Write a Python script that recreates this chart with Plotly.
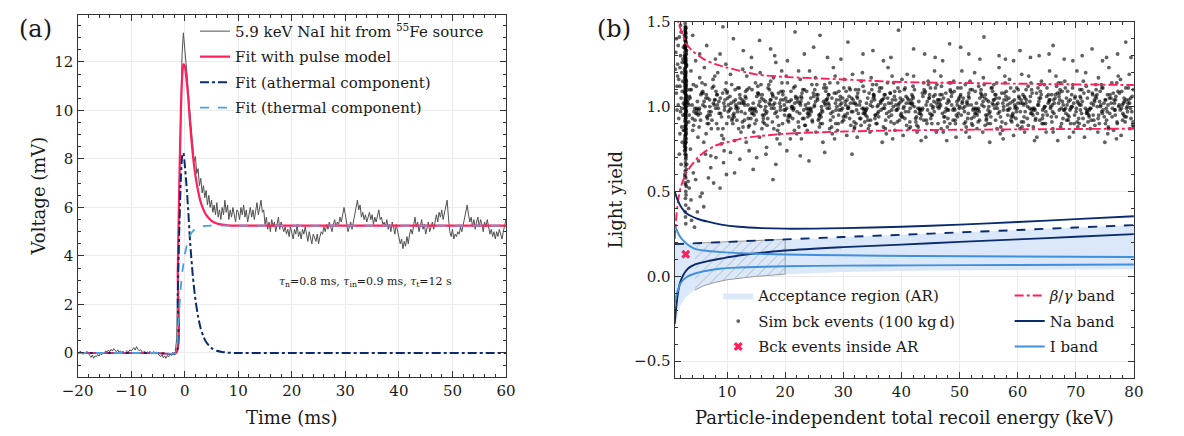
import plotly.graph_objects as go

# ---------------- panel (a) data ----------------
trace_t0 = -20.0
trace_dt = 0.25
trace_mv = [
    0.05, -0.04, 0.08, 0.02, -0.06, 0.04, -0.02, 0.07, -0.05,
    -0.10, -0.18, -0.08, -0.22, -0.12, -0.15, -0.06, -0.13, -0.02, -0.08,
    0.04, -0.03, 0.09, 0.02, 0.12, 0.05, 0.15, 0.08, 0.18, 0.10, 0.06, 0.13, 0.03, 0.09,
    0.02, 0.07, -0.03, 0.05, 0.10, 0.04, 0.13, 0.08, 0.16, 0.22, 0.12, 0.26, 0.15, 0.09, 0.14, 0.05,
    0.02, 0.08, -0.02, 0.05, 0.00, 0.07, -0.04, 0.03, 0.06, -0.01, 0.04, -0.03,
    -0.08, -0.15, -0.06, -0.20, -0.12, -0.22, -0.10, -0.16, -0.05, -0.11,
    0.02, -0.04, 0.05,
    0.6, 4.0, 7.2, 10.0, 12.3, 13.2,
    12.6, 12.1, 11.3, 10.5, 9.9, 9.0, 8.6, 7.9, 8.1, 7.4,
    7.6, 6.9, 7.2, 6.6, 6.9, 6.4, 6.7, 6.1, 6.5, 6.0,
    6.3, 5.8, 6.1, 5.7, 6.2, 5.6, 5.9, 5.5, 6.0, 5.7,
    6.3, 5.8, 6.1, 5.5, 5.9, 5.6, 6.0, 5.7, 5.4, 5.9,
    5.8, 5.5, 6.0, 5.7, 6.1, 5.6, 5.9, 5.4, 5.8, 6.0, 5.6, 5.9, 5.5, 5.8, 6.2, 5.7, 6.0, 6.3, 5.8, 5.9,
    5.3, 5.6, 5.1, 5.4, 5.0, 5.5, 5.2, 5.4, 5.0, 5.3, 5.6, 5.1, 5.4, 5.2, 5.0,
    5.2, 4.9, 5.1, 4.8, 5.2, 5.0, 4.7, 5.1, 4.9, 5.3, 4.8, 5.0, 4.7, 5.1, 4.9, 5.2, 4.8, 4.6, 5.0, 4.8,
    4.5, 4.9, 4.7, 4.6, 4.9, 4.5,
    4.8, 5.0, 4.9, 5.2, 5.0, 5.3, 5.1, 5.4, 5.2, 5.0, 5.3, 5.5, 5.2, 5.4, 5.3, 5.6, 5.4,
    5.8, 6.0, 5.7, 5.3, 5.0, 5.2, 5.4, 5.1, 5.5, 5.7,
    6.0, 6.3, 5.9, 6.1, 5.6, 5.8, 5.5,
    5.7, 5.4, 5.6, 5.8, 5.5, 5.7, 5.3, 5.6, 5.4, 5.7, 5.9, 5.5, 5.6, 5.3,
    5.4, 5.2, 5.5, 5.1, 5.3, 5.0, 5.4, 5.2, 4.9, 5.3, 5.0,
    4.8, 4.5, 4.7, 4.3, 4.6, 4.4, 4.8, 4.5, 4.9,
    5.1, 4.9, 5.3, 5.6, 5.2, 5.4, 5.0, 5.3, 5.5, 5.1, 5.3, 4.9, 5.2, 5.4, 5.0, 5.2, 5.4, 5.1,
    5.5, 5.7, 5.4, 5.8, 5.6, 5.9, 5.5, 5.8, 6.0, 6.3,
    5.6, 5.0, 4.8, 5.1, 4.7, 4.9, 4.8, 5.0, 4.9, 5.2, 5.0, 5.3,
    5.5, 5.8, 6.1, 5.7, 5.4, 5.6,
    5.2, 5.5, 5.1, 5.4, 5.6, 5.2, 5.5, 5.3, 5.0, 5.4, 5.2, 5.5, 5.1,
    4.9, 5.1, 4.8, 5.0, 4.7, 5.0, 4.8, 5.1, 4.9, 4.7, 5.0, 5.2,
    5.5,
]
fit_t = [-20, -5, -1.6, -1.3, -1.0, -0.7, -0.45, -0.25, 0.0, 0.3, 0.65, 1.0, 1.5, 2.0,
         2.5, 3.0, 3.5, 4.0, 5.0, 6.0, 7.0, 8.0, 10.0, 20.0, 60.0]
fit_pulse = [0, 0, 0, 3.3, 7.1, 10.1, 11.5, 11.9, 11.85, 11.35, 10.55, 9.45, 8.22, 7.32,
             6.68, 6.21, 5.91, 5.69, 5.45, 5.34, 5.29, 5.265, 5.25, 5.25, 5.25]
fit_athermal = [0, 0, 0, 2.4, 5.2, 7.3, 8.15, 8.25, 7.8, 7.0, 5.9, 4.6, 3.2, 2.2,
                1.5, 1.0, 0.68, 0.45, 0.2, 0.09, 0.04, 0.015, 0.0, 0.0, 0.0]
fit_thermal = [0, 0, 0, 0.9, 1.9, 2.8, 3.35, 3.65, 4.05, 4.35, 4.65, 4.85, 5.02, 5.12,
               5.18, 5.21, 5.23, 5.24, 5.25, 5.25, 5.25, 5.25, 5.25, 5.25, 5.25]

# ---------------- panel (b) data ----------------
bg_up_e = [1.3, 1.6, 2.2, 3, 4, 6, 8, 10, 15, 20, 30, 40, 60, 80]
bg_up_ly = [1.58, 1.5, 1.44, 1.37, 1.33, 1.28, 1.25, 1.23, 1.19, 1.175, 1.16, 1.145, 1.135, 1.127]
bg_lo_e = [1.0, 1.3, 1.6, 2.0, 2.5, 3.0, 4, 5, 6, 8, 10, 13, 20, 30, 40, 60, 80]
bg_lo_ly = [0.22, 0.36, 0.45, 0.52, 0.57, 0.61, 0.66, 0.70, 0.73, 0.77, 0.79, 0.815, 0.84,
            0.853, 0.86, 0.866, 0.87]
na_up_e = [1, 1.5, 2, 2.5, 3, 3.9, 5, 6.7, 9, 12, 16, 20, 30, 40, 50, 60, 70, 80]
na_up_ly = [0.5, 0.45, 0.415, 0.39, 0.372, 0.354, 0.338, 0.322, 0.305, 0.292, 0.284, 0.281,
            0.284, 0.292, 0.305, 0.32, 0.337, 0.354]
na_mid_e = [1, 10, 20, 30, 40, 50, 60, 70, 80]
na_mid_ly = [0.19, 0.203, 0.218, 0.232, 0.245, 0.259, 0.273, 0.288, 0.302]
na_lo_e = [1, 1.3, 1.6, 1.9, 2.5, 3.3, 4.5, 6.7, 9, 12, 20, 30, 40, 50, 60, 70, 80]
na_lo_ly = [-0.28, -0.17, -0.09, -0.04, 0.01, 0.046, 0.07, 0.09, 0.105, 0.123, 0.152, 0.172,
            0.187, 0.203, 0.218, 0.233, 0.249]
i_up_e = [1, 1.5, 2, 2.8, 3.5, 4.5, 6, 9, 12, 20, 30, 42, 60, 80]
i_up_ly = [0.306, 0.26, 0.23, 0.2, 0.18, 0.162, 0.152, 0.143, 0.137, 0.129, 0.124, 0.12, 0.117, 0.114]
i_lo_e = [1, 1.3, 1.6, 2, 3, 4.5, 6, 9, 12, 20, 30, 42, 60, 80]
i_lo_ly = [-0.16, -0.11, -0.075, -0.04, -0.005, 0.017, 0.03, 0.046, 0.052, 0.06, 0.063, 0.065, 0.067, 0.07]
ar_lo_e = [1, 1.5, 2, 3, 4, 5, 6, 8, 10, 15, 20, 30, 40, 60, 80]
ar_lo_ly = [-0.33, -0.23, -0.17, -0.12, -0.09, -0.07, -0.055, -0.035, -0.02, 0.0, 0.013, 0.025,
            0.032, 0.038, 0.042]
hatch_lo_e = [4.5, 5, 6, 8, 10, 15, 20]
hatch_lo_ly = [-0.08, -0.07, -0.055, -0.035, -0.02, 0.0, 0.013]
hatch_hi_e = [20, 10, 4.5]
hatch_hi_ly = [0.218, 0.203, 0.196]
inside_e = [2.9]
inside_ly = [0.13]

# simulated background events
column_e = [2.8, 2.9, 2.7, 3.0, 2.8, 2.9, 2.75, 3.05, 2.85, 2.95, 2.7, 2.9, 2.8, 3.0, 2.85, 2.75, 2.95, 2.8, 2.9, 3.1,
            2.8, 2.7, 2.9, 2.85, 3.0, 2.75, 2.9, 2.8, 2.95, 2.85, 2.9, 2.7, 2.8, 3.0, 2.85, 2.9, 2.75, 2.95, 2.8, 2.9,
            2.85, 3.0, 2.8, 2.9, 2.7, 2.85, 2.95, 2.8, 2.9, 3.05, 2.8, 2.9, 2.75, 2.85, 3.0, 2.9, 2.8, 2.95, 2.85, 2.9,
            2.8, 2.9, 2.85, 2.95, 2.75, 2.8, 2.9, 3.0, 2.85, 2.7, 2.9, 2.8, 2.95, 2.85, 2.75, 3.0, 2.8, 2.9, 2.85, 2.95,
            2.7, 2.8, 2.9, 3.05, 2.85, 2.75, 2.9, 2.8, 2.95, 2.85, 2.9, 2.8, 2.7, 2.9, 2.85, 3.0, 2.8, 2.9, 2.85, 2.9,
            2.8, 2.9, 2.85, 2.75, 2.95, 2.8, 3.0, 2.85, 2.9, 2.8, 2.9, 2.85, 2.75, 2.95, 2.8, 2.9, 3.0, 2.85, 2.8, 2.9,
            2.85, 2.75, 2.9, 2.8, 2.95, 2.85, 2.9, 3.0, 2.8, 2.85, 2.9, 2.8, 2.75, 2.95, 2.85, 2.9, 2.8, 3.0, 2.85, 2.9,
            2.8, 2.9, 2.85, 2.95, 2.75, 2.8, 2.9, 2.85, 3.0, 2.8, 2.9, 2.85, 2.75, 2.9, 2.8, 2.95, 2.85, 2.9, 2.8, 3.0]
column_ly = [1.45, 1.38, 1.42, 1.33, 1.29, 1.47, 1.36, 1.24, 1.40, 1.31, 1.22, 1.18, 1.27, 1.15, 1.35, 1.12, 1.20, 1.08, 1.25, 1.10,
             1.05, 1.14, 1.02, 0.98, 1.06, 0.95, 1.11, 0.92, 1.00, 0.88, 0.94, 0.86, 1.03, 0.90, 0.83, 0.97, 0.80, 0.87, 0.78, 0.84,
             0.75, 0.81, 0.72, 0.69, 0.77, 0.65, 0.71, 0.62, 0.58, 0.66, 0.55, 0.50, 0.60, 0.46, 0.53, 0.42, 0.38, 0.48, 0.35, 0.31,
             1.49, 1.43, 1.39, 1.41, 1.32, 1.34, 1.28, 1.37, 1.26, 1.30, 1.21, 1.19, 1.16, 1.23, 1.17, 1.13, 1.09, 1.07, 1.04, 1.12,
             1.01, 0.99, 0.96, 1.03, 0.93, 1.08, 0.89, 0.91, 0.85, 0.82, 0.79, 0.76, 0.74, 0.70, 0.67, 0.63, 0.59, 0.54, 1.44, 1.46,
             1.41, 0.87, 1.13, 0.99, 1.27, 0.78, 1.06, 1.35, 0.93, 1.19, 1.02, 1.44, 0.81, 1.24, 0.96, 1.09, 1.31, 0.74, 1.16, 1.38,
             0.89, 1.21, 1.05, 1.47, 0.84, 1.11, 1.29, 0.97, 1.36, 0.76, 1.14, 1.01, 1.26, 0.91, 1.43, 1.07, 0.83, 1.33, 1.18, 0.95,
             1.39, 0.72, 1.23, 1.04, 1.30, 0.88, 1.15, 1.46, 0.98, 1.20, 0.79, 1.34, 1.10, 0.94, 1.28, 1.00, 1.40, 0.86, 1.17, 1.25]
lowe_e = [1.2, 1.5, 1.8, 2.1, 2.3, 1.4, 1.9, 2.2, 1.6, 2.4, 1.1, 1.7, 2.0, 2.3, 1.3, 2.5, 1.9, 2.1, 1.6, 2.4,
          1.5, 2.2, 1.8, 2.0, 2.5, 1.3, 2.3, 1.7, 2.1, 2.4, 1.4, 2.0, 2.2, 1.9, 2.5]
lowe_ly = [1.32, 1.18, 1.41, 1.05, 1.26, 0.98, 1.12, 0.88, 1.36, 1.15, 1.22, 0.93, 1.30, 0.79, 1.08, 1.02, 0.84, 1.44, 1.01, 0.95,
           1.25, 1.20, 0.72, 0.97, 1.35, 1.40, 1.09, 1.16, 0.66, 1.28, 1.12, 1.48, 0.99, 1.23, 0.86]
below_e = [3.5, 4.2, 3.8, 5.1, 4.6, 6.3, 5.7, 7.2, 3.4, 8.1, 6.8, 9.4, 4.9, 10.6, 7.7, 12.2, 3.9, 11.3, 13.8, 5.4,
           15.1, 8.8, 16.7, 18.4, 6.0, 20.3, 9.9, 22.6, 14.5, 4.4, 26.8, 17.9, 31.5, 3.3, 24.1]
below_ly = [0.52, 0.61, 0.45, 0.68, 0.57, 0.72, 0.49, 0.64, 0.40, 0.70, 0.58, 0.67, 0.38, 0.73, 0.55, 0.69, 0.33, 0.61, 0.74, 0.47,
            0.70, 0.52, 0.72, 0.66, 0.41, 0.74, 0.60, 0.71, 0.63, 0.29, 0.73, 0.57, 0.72, 0.56, 0.68]
above_e = [4.1, 6.5, 9.3, 12.8, 15.6, 18.2, 21.7, 24.9, 27.3, 30.8, 33.4, 36.9, 39.5, 42.1, 45.8, 48.3, 51.6, 54.2, 57.9, 60.4,
           63.7, 66.1, 69.5, 72.8, 75.3, 78.6, 5.3, 8.0, 11.1, 14.2, 17.5, 20.4, 23.3, 26.0, 29.6, 35.1, 38.2, 44.0, 47.1, 50.2,
           53.5, 56.8, 59.3, 62.2, 65.4, 68.0, 71.1, 74.6, 77.2, 79.5]
above_ly = [1.42, 1.36, 1.47, 1.33, 1.39, 1.30, 1.44, 1.35, 1.29, 1.38, 1.31, 1.27, 1.45, 1.34, 1.29, 1.37, 1.31, 1.41, 1.28, 1.33,
            1.30, 1.36, 1.27, 1.34, 1.29, 1.38, 1.31, 1.28, 1.40, 1.29, 1.34, 1.27, 1.31, 1.42, 1.28, 1.33, 1.29, 1.31, 1.27, 1.35,
            1.28, 1.30, 1.27, 1.29, 1.31, 1.28, 1.30, 1.27, 1.31, 1.29]
cloud_e = [
    3.3, 4.1, 3.6, 4.3, 3.8, 3.4, 4.0, 3.7, 4.2, 3.5,
    4.5, 5.3, 4.8, 5.5, 5.0, 4.6, 5.2, 4.9, 5.4, 4.7,
    5.7, 6.5, 6.0, 6.7, 6.2, 5.8, 6.4, 6.1, 6.6, 5.9,
    6.9, 7.7, 7.2, 7.9, 7.4, 7.0, 7.6, 7.3, 7.8, 7.1,
    8.1, 8.9, 8.4, 9.1, 8.6, 8.2, 8.8, 8.5, 9.0, 8.3,
    9.3, 10.1, 9.6, 10.3, 9.8, 9.4, 10.0, 9.7, 10.2, 9.5,
    10.5, 11.3, 10.8, 11.5, 11.0, 10.6, 11.2, 10.9, 11.4, 10.7,
    11.7, 12.5, 12.0, 12.7, 12.2, 11.8, 12.4, 12.1, 12.6, 11.9,
    12.9, 13.7, 13.2, 13.9, 13.4, 13.0, 13.6, 13.3, 13.8, 13.1,
    14.1, 14.9, 14.4, 15.1, 14.6, 14.2, 14.8, 14.5, 15.0, 14.3,
    15.3, 16.1, 15.6, 16.3, 15.8, 15.4, 16.0, 15.7, 16.2, 15.5,
    16.5, 17.3, 16.8, 17.5, 17.0, 16.6, 17.2, 16.9, 17.4, 16.7,
    17.7, 18.5, 18.0, 18.7, 18.2, 17.8, 18.4, 18.1, 18.6, 17.9,
    18.9, 19.7, 19.2, 19.9, 19.4, 19.0, 19.6, 19.3, 19.8, 19.1,
    20.1, 20.9, 20.4, 21.1, 20.6, 20.2, 20.8, 20.5, 21.0, 20.3,
    21.3, 22.1, 21.6, 22.3, 21.8, 21.4, 22.0, 21.7, 22.2, 21.5,
    22.5, 23.3, 22.8, 23.5, 23.0, 22.6, 23.2, 22.9, 23.4, 22.7,
    23.7, 24.5, 24.0, 24.7, 24.2, 23.8, 24.4, 24.1, 24.6, 23.9,
    24.9, 25.7, 25.2, 25.9, 25.4, 25.0, 25.6, 25.3, 25.8, 25.1,
    26.1, 26.9, 26.4, 27.1, 26.6, 26.2, 26.8, 26.5, 27.0, 26.3,
    27.3, 28.1, 27.6, 28.3, 27.8, 27.4, 28.0, 27.7, 28.2, 27.5,
    28.5, 29.3, 28.8, 29.5, 29.0, 28.6, 29.2, 28.9, 29.4, 28.7,
    29.7, 30.5, 30.0, 30.7, 30.2, 29.8, 30.4, 30.1, 30.6, 29.9,
    30.9, 31.7, 31.2, 31.9, 31.4, 31.0, 31.6, 31.3, 31.8, 31.1,
    32.1, 32.9, 32.4, 33.1, 32.6, 32.2, 32.8, 32.5, 33.0, 32.3,
    33.3, 34.1, 33.6, 34.3, 33.8, 33.4, 34.0, 33.7, 34.2, 33.5,
    34.5, 35.3, 34.8, 35.5, 35.0, 34.6, 35.2, 34.9, 35.4, 34.7,
    35.7, 36.5, 36.0, 36.7, 36.2, 35.8, 36.4, 36.1, 36.6, 35.9,
    36.9, 37.7, 37.2, 37.9, 37.4, 37.0, 37.6, 37.3, 37.8, 37.1,
    38.1, 38.9, 38.4, 39.1, 38.6, 38.2, 38.8, 38.5, 39.0, 38.3,
    39.3, 40.1, 39.6, 40.3, 39.8, 39.4, 40.0, 39.7, 40.2, 39.5,
    40.5, 41.3, 40.8, 41.5, 41.0, 40.6, 41.2, 40.9, 41.4, 40.7,
    41.7, 42.5, 42.0, 42.7, 42.2, 41.8, 42.4, 42.1, 42.6, 41.9,
    42.9, 43.7, 43.2, 43.9, 43.4, 43.0, 43.6, 43.3, 43.8, 43.1,
    44.1, 44.9, 44.4, 45.1, 44.6, 44.2, 44.8, 44.5, 45.0, 44.3,
    45.3, 46.1, 45.6, 46.3, 45.8, 45.4, 46.0, 45.7, 46.2, 45.5,
    46.5, 47.3, 46.8, 47.5, 47.0, 46.6, 47.2, 46.9, 47.4, 46.7,
    47.7, 48.5, 48.0, 48.7, 48.2, 47.8, 48.4, 48.1, 48.6, 47.9,
    48.9, 49.7, 49.2, 49.9, 49.4, 49.0, 49.6, 49.3, 49.8, 49.1,
    50.1, 50.9, 50.4, 51.1, 50.6, 50.2, 50.8, 50.5, 51.0, 50.3,
    51.3, 52.1, 51.6, 52.3, 51.8, 51.4, 52.0, 51.7, 52.2, 51.5,
    52.5, 53.3, 52.8, 53.5, 53.0, 52.6, 53.2, 52.9, 53.4, 52.7,
    53.7, 54.5, 54.0, 54.7, 54.2, 53.8, 54.4, 54.1, 54.6, 53.9,
    54.9, 55.7, 55.2, 55.9, 55.4, 55.0, 55.6, 55.3, 55.8, 55.1,
    56.1, 56.9, 56.4, 57.1, 56.6, 56.2, 56.8, 56.5, 57.0, 56.3,
    57.3, 58.1, 57.6, 58.3, 57.8, 57.4, 58.0, 57.7, 58.2, 57.5,
    58.5, 59.3, 58.8, 59.5, 59.0, 58.6, 59.2, 58.9, 59.4, 58.7,
    59.7, 60.5, 60.0, 60.7, 60.2, 59.8, 60.4, 60.1, 60.6, 59.9,
    61.5, 61.0, 61.8, 61.2, 61.7, 60.9, 61.3, 61.9, 61.1, 61.4,
    62.7, 62.2, 63.0, 62.4, 62.9, 62.1, 62.5, 63.1, 62.3, 62.6,
    63.9, 63.4, 64.2, 63.6, 64.1, 63.3, 63.7, 64.3, 63.5, 63.8,
    65.1, 64.6, 65.4, 64.8, 65.3, 64.5, 64.9, 65.5, 64.7, 65.0,
    66.3, 65.8, 66.6, 66.0, 66.5, 65.7, 66.1, 66.7, 65.9, 66.2,
    67.5, 67.0, 67.8, 67.2, 67.7, 66.9, 67.3, 67.9, 67.1, 67.4,
    68.7, 68.2, 69.0, 68.4, 68.9, 68.1, 68.5, 69.1, 68.3, 68.6,
    69.9, 69.4, 70.2, 69.6, 70.1, 69.3, 69.7, 70.3, 69.5, 69.8,
    71.1, 70.6, 71.4, 70.8, 71.3, 70.5, 70.9, 71.5, 70.7, 71.0,
    72.3, 71.8, 72.6, 72.0, 72.5, 71.7, 72.1, 72.7, 71.9, 72.2,
    73.5, 73.0, 73.8, 73.2, 73.7, 72.9, 73.3, 73.9, 73.1, 73.4,
    74.7, 74.2, 75.0, 74.4, 74.9, 74.1, 74.5, 75.1, 74.3, 74.6,
    75.9, 75.4, 76.2, 75.6, 76.1, 75.3, 75.7, 76.3, 75.5, 75.8,
    77.1, 76.6, 77.4, 76.8, 77.3, 76.5, 76.9, 77.5, 76.7, 77.0,
    78.3, 77.8, 78.6, 78.0, 78.5, 77.7, 78.1, 78.7, 77.9, 78.2,
    79.5, 79.0, 79.8, 79.2, 79.7, 78.9, 79.3, 79.9, 79.1, 79.4,
]
cloud_ly = [
    1.04, 0.86, 1.10, 0.97, 1.21, 0.91, 1.01, 0.75, 1.13, 0.95,
    0.92, 1.17, 0.99, 1.07, 0.82, 1.27, 0.88, 1.03, 0.96, 1.12,
    1.14, 0.94, 0.79, 1.05, 1.00, 1.09, 0.84, 1.23, 0.90, 1.08,
    0.97, 1.12, 0.71, 1.18, 0.92, 1.04, 1.16, 0.87, 1.01, 0.95,
    1.09, 0.96, 1.20, 0.83, 1.03, 0.90, 1.31, 0.99, 0.78, 1.07,
    0.87, 1.05, 1.00, 0.94, 1.25, 0.81, 1.08, 1.10, 0.97, 0.74,
    1.06, 0.80, 1.13, 1.01, 0.90, 1.19, 0.96, 0.93, 1.10, 1.02,
    0.92, 1.02, 0.87, 1.22, 1.07, 0.97, 0.85, 1.11, 1.04, 0.99,
    1.03, 0.88, 1.09, 0.98, 1.18, 0.92, 1.01, 0.79, 1.11, 0.96,
    0.93, 1.14, 0.99, 1.06, 0.85, 1.23, 0.90, 1.02, 0.97, 1.10,
    1.12, 0.95, 0.82, 1.04, 1.00, 1.08, 0.87, 1.20, 0.91, 1.07,
    0.98, 1.10, 0.76, 1.15, 0.93, 1.03, 1.13, 0.89, 1.01, 0.96,
    1.08, 0.97, 1.17, 0.86, 1.02, 0.91, 1.26, 0.99, 0.81, 1.06,
    0.89, 1.04, 1.00, 0.95, 1.21, 0.84, 1.07, 1.09, 0.98, 0.78,
    1.05, 0.81, 1.14, 1.00, 0.91, 1.18, 0.95, 0.94, 1.09, 1.03,
    0.93, 1.03, 0.86, 1.21, 1.06, 0.98, 0.84, 1.12, 1.05, 0.99,
    0.96, 1.10, 0.81, 1.01, 0.93, 1.16, 0.98, 1.08, 0.89, 1.03,
    1.09, 0.97, 1.02, 0.91, 1.21, 0.86, 1.05, 0.99, 1.13, 0.94,
    1.06, 0.92, 1.17, 0.88, 1.07, 1.00, 1.04, 0.85, 0.95, 1.10,
    0.96, 1.01, 0.90, 1.11, 1.03, 0.94, 1.13, 0.79, 1.09, 0.98,
    1.05, 0.84, 0.99, 1.23, 0.92, 1.02, 0.88, 1.14, 0.97, 1.07,
    0.81, 0.98, 1.08, 1.06, 0.86, 1.18, 0.95, 1.00, 1.04, 0.90,
    1.02, 1.09, 0.94, 0.96, 1.16, 0.91, 1.01, 1.11, 0.83, 1.05,
    0.99, 1.04, 1.10, 0.87, 0.97, 1.06, 1.19, 0.89, 1.02, 0.93,
    1.10, 1.03, 0.82, 1.15, 0.96, 0.90, 1.01, 1.08, 0.93, 0.98,
    1.20, 0.94, 1.09, 0.87, 0.97, 1.12, 1.02, 0.91, 1.05, 0.99,
    0.89, 1.06, 1.17, 0.95, 1.00, 0.85, 1.07, 1.10, 1.04, 0.92,
    1.13, 0.98, 1.01, 0.79, 1.09, 0.90, 1.03, 0.94, 1.11, 0.96,
    0.88, 1.23, 1.07, 0.97, 0.84, 1.05, 1.14, 0.92, 1.02, 0.99,
    1.08, 0.86, 1.18, 0.98, 1.00, 0.91, 1.06, 0.81, 1.04, 0.95,
    0.91, 1.16, 1.02, 0.83, 1.05, 1.11, 0.96, 1.09, 0.94, 1.01,
    1.10, 0.87, 1.06, 0.99, 1.19, 0.93, 1.04, 0.89, 1.02, 0.97,
    1.04, 0.91, 1.12, 0.85, 1.00, 1.07, 0.97, 1.18, 0.94, 1.02,
    0.88, 1.06, 0.98, 1.10, 0.80, 1.03, 1.08, 0.93, 1.14, 0.99,
    1.09, 0.96, 0.90, 1.01, 1.15, 0.82, 1.05, 0.98, 1.11, 0.92,
    0.95, 1.13, 1.03, 0.90, 1.07, 0.99, 0.85, 1.21, 1.00, 1.06,
    1.02, 0.94, 1.18, 0.97, 1.07, 1.00, 0.85, 1.12, 0.91, 1.04,
    0.99, 1.14, 0.93, 1.08, 1.03, 0.80, 1.10, 0.98, 1.06, 0.88,
    0.92, 1.11, 0.98, 1.05, 0.82, 1.15, 1.01, 0.90, 0.96, 1.09,
    1.06, 1.00, 1.21, 0.85, 0.99, 1.07, 0.90, 1.03, 1.13, 0.95,
    1.03, 0.90, 1.08, 0.98, 1.15, 0.93, 1.01, 0.82, 1.10, 0.96,
    0.94, 1.12, 0.99, 1.05, 0.87, 1.20, 0.91, 1.02, 0.97, 1.09,
    1.10, 0.95, 0.85, 1.04, 1.00, 1.07, 0.89, 1.17, 0.92, 1.06,
    0.98, 1.09, 0.79, 1.13, 0.94, 1.03, 1.11, 0.90, 1.01, 0.96,
    1.07, 0.97, 1.14, 0.88, 1.02, 0.92, 1.23, 0.99, 0.84, 1.05,
    0.91, 1.04, 1.00, 0.95, 1.18, 0.86, 1.06, 1.08, 0.98, 0.81,
    1.05, 0.83, 1.11, 1.01, 0.91, 1.16, 0.96, 0.94, 1.09, 1.02,
    0.93, 1.02, 0.89, 1.19, 1.06, 0.97, 0.87, 1.10, 1.04, 0.99,
    1.04, 0.91, 1.12, 0.85, 1.00, 1.07, 0.97, 1.18, 0.94, 1.02,
    0.88, 1.06, 0.98, 1.10, 0.80, 1.03, 1.08, 0.93, 1.14, 0.99,
    1.09, 0.96, 0.90, 1.01, 1.15, 0.82, 1.05, 0.98, 1.11, 0.92,
    0.95, 1.13, 1.03, 0.90, 1.07, 0.99, 0.85, 1.21, 1.00, 1.06,
    1.02, 0.94, 1.18, 0.97, 1.07, 1.00, 0.85, 1.12, 0.91, 1.04,
    0.99, 1.14, 0.93, 1.08, 1.03, 0.80, 1.10, 0.98, 1.06, 0.88,
    0.92, 1.11, 0.98, 1.05, 0.82, 1.15, 1.01, 0.90, 0.96, 1.09,
    1.06, 1.00, 1.21, 0.85, 0.99, 1.07, 0.90, 1.03, 1.13, 0.95,
    1.03, 0.90, 1.08, 0.98, 1.15, 0.93, 1.01, 0.82, 1.10, 0.96,
    0.94, 1.12, 0.99, 1.05, 0.87, 1.20, 0.91, 1.02, 0.97, 1.09,
    1.10, 0.95, 0.85, 1.04, 1.00, 1.07, 0.89, 1.17, 0.92, 1.06,
    0.98, 1.09, 0.79, 1.13, 0.94, 1.03, 1.11, 0.90, 1.01, 0.96,
    1.07, 0.97, 1.14, 0.88, 1.02, 0.92, 1.23, 0.99, 0.84, 1.05,
    0.91, 1.04, 1.00, 0.95, 1.18, 0.86, 1.06, 1.08, 0.98, 0.81,
    1.05, 0.83, 1.11, 1.01, 0.91, 1.16, 0.96, 0.94, 1.09, 1.02,
    0.93, 1.02, 0.89, 1.19, 1.06, 0.97, 0.87, 1.10, 1.04, 0.99,
]
core_e = [
    3.25, 4.05, 3.65, 4.45, 3.85, 4.65, 3.45, 4.25, 3.55, 4.75,
    4.85, 5.65, 5.25, 6.05, 5.45, 6.25, 5.05, 5.85, 5.15, 6.35,
    6.45, 7.25, 6.85, 7.65, 7.05, 7.85, 6.65, 7.45, 6.75, 7.95,
    8.05, 8.85, 8.45, 9.25, 8.65, 9.45, 8.25, 9.05, 8.35, 9.55,
    9.65, 10.45, 10.05, 10.85, 10.25, 11.05, 9.85, 10.65, 9.95, 11.15,
    11.25, 12.05, 11.65, 12.45, 11.85, 12.65, 11.45, 12.25, 11.55, 12.75,
    12.85, 13.65, 13.25, 14.05, 13.45, 14.25, 13.05, 13.85, 13.15, 14.35,
    14.45, 15.25, 14.85, 15.65, 15.05, 15.85, 14.65, 15.45, 14.75, 15.95,
    16.05, 16.85, 16.45, 17.25, 16.65, 17.45, 16.25, 17.05, 16.35, 17.55,
    17.65, 18.45, 18.05, 18.85, 18.25, 19.05, 17.85, 18.65, 17.95, 19.15,
    19.25, 20.05, 19.65, 20.45, 19.85, 20.65, 19.45, 20.25, 19.55, 20.75,
    20.85, 21.65, 21.25, 22.05, 21.45, 22.25, 21.05, 21.85, 21.15, 22.35,
    22.45, 23.25, 22.85, 23.65, 23.05, 23.85, 22.65, 23.45, 22.75, 23.95,
    24.05, 24.85, 24.45, 25.25, 24.65, 25.45, 24.25, 25.05, 24.35, 25.55,
    25.65, 26.45, 26.05, 26.85, 26.25, 27.05, 25.85, 26.65, 25.95, 27.15,
    27.25, 28.05, 27.65, 28.45, 27.85, 28.65, 27.45, 28.25, 27.55, 28.75,
    28.85, 29.65, 29.25, 30.05, 29.45, 30.25, 29.05, 29.85, 29.15, 30.35,
    30.45, 31.25, 30.85, 31.65, 31.05, 31.85, 30.65, 31.45, 30.75, 31.95,
    32.05, 32.85, 32.45, 33.25, 32.65, 33.45, 32.25, 33.05, 32.35, 33.55,
    33.65, 34.45, 34.05, 34.85, 34.25, 35.05, 33.85, 34.65, 33.95, 35.15,
    35.25, 36.05, 35.65, 36.45, 35.85, 36.65, 35.45, 36.25, 35.55, 36.75,
    36.85, 37.65, 37.25, 38.05, 37.45, 38.25, 37.05, 37.85, 37.15, 38.35,
    38.45, 39.25, 38.85, 39.65, 39.05, 39.85, 38.65, 39.45, 38.75, 39.95,
    40.05, 40.85, 40.45, 41.25, 40.65, 41.45, 40.25, 41.05, 40.35, 41.55,
    41.65, 42.45, 42.05, 42.85, 42.25, 43.05, 41.85, 42.65, 41.95, 43.15,
    43.25, 44.05, 43.65, 44.45, 43.85, 44.65, 43.45, 44.25, 43.55, 44.75,
    44.85, 45.65, 45.25, 46.05, 45.45, 46.25, 45.05, 45.85, 45.15, 46.35,
    46.45, 47.25, 46.85, 47.65, 47.05, 47.85, 46.65, 47.45, 46.75, 47.95,
    48.05, 48.85, 48.45, 49.25, 48.65, 49.45, 48.25, 49.05, 48.35, 49.55,
    49.65, 50.45, 50.05, 50.85, 50.25, 51.05, 49.85, 50.65, 49.95, 51.15,
    51.25, 52.05, 51.65, 52.45, 51.85, 52.65, 51.45, 52.25, 51.55, 52.75,
    52.85, 53.65, 53.25, 54.05, 53.45, 54.25, 53.05, 53.85, 53.15, 54.35,
    54.45, 55.25, 54.85, 55.65, 55.05, 55.85, 54.65, 55.45, 54.75, 55.95,
    56.05, 56.85, 56.45, 57.25, 56.65, 57.45, 56.25, 57.05, 56.35, 57.55,
    57.65, 58.45, 58.05, 58.85, 58.25, 59.05, 57.85, 58.65, 57.95, 59.15,
    59.25, 60.05, 59.65, 60.45, 59.85, 60.65, 59.45, 60.25, 59.55, 60.75,
    60.85, 61.65, 61.25, 62.05, 61.45, 62.25, 61.05, 61.85, 61.15, 62.35,
    62.45, 63.25, 62.85, 63.65, 63.05, 63.85, 62.65, 63.45, 62.75, 63.95,
    64.05, 64.85, 64.45, 65.25, 64.65, 65.45, 64.25, 65.05, 64.35, 65.55,
    65.65, 66.45, 66.05, 66.85, 66.25, 67.05, 65.85, 66.65, 65.95, 67.15,
    67.25, 68.05, 67.65, 68.45, 67.85, 68.65, 67.45, 68.25, 67.55, 68.75,
    68.85, 69.65, 69.25, 70.05, 69.45, 70.25, 69.05, 69.85, 69.15, 70.35,
    70.45, 71.25, 70.85, 71.65, 71.05, 71.85, 70.65, 71.45, 70.75, 71.95,
    72.05, 72.85, 72.45, 73.25, 72.65, 73.45, 72.25, 73.05, 72.35, 73.55,
    73.65, 74.45, 74.05, 74.85, 74.25, 75.05, 73.85, 74.65, 73.95, 75.15,
    75.25, 76.05, 75.65, 76.45, 75.85, 76.65, 75.45, 76.25, 75.55, 76.75,
    76.85, 77.65, 77.25, 78.05, 77.45, 78.25, 77.05, 77.85, 77.15, 78.35,
    78.45, 79.25, 78.85, 79.65, 79.05, 79.85, 78.65, 79.45, 78.75, 79.95,
]
core_ly = [
    1.02, 0.93, 1.05, 0.99, 1.10, 0.96, 1.01, 0.89, 1.06, 0.98,
    0.96, 1.08, 0.99, 1.03, 0.92, 1.13, 0.95, 1.01, 0.98, 1.05,
    1.07, 0.97, 0.90, 1.02, 1.00, 1.04, 0.93, 1.11, 0.95, 1.04,
    0.99, 1.05, 0.87, 1.08, 0.96, 1.02, 1.07, 0.94, 1.01, 0.98,
    1.04, 0.98, 1.09, 0.92, 1.01, 0.95, 1.14, 0.99, 0.90, 1.03,
    0.94, 1.02, 1.00, 0.97, 1.11, 0.91, 1.04, 1.05, 0.99, 0.88,
    1.02, 0.93, 1.05, 0.99, 1.10, 0.96, 1.01, 0.89, 1.06, 0.98,
    0.96, 1.08, 0.99, 1.03, 0.92, 1.13, 0.95, 1.01, 0.98, 1.05,
    1.07, 0.97, 0.90, 1.02, 1.00, 1.04, 0.93, 1.11, 0.95, 1.04,
    0.99, 1.05, 0.87, 1.08, 0.96, 1.02, 1.07, 0.94, 1.01, 0.98,
    1.04, 0.98, 1.09, 0.92, 1.01, 0.95, 1.14, 0.99, 0.90, 1.03,
    0.94, 1.02, 1.00, 0.97, 1.11, 0.91, 1.04, 1.05, 0.99, 0.88,
    1.02, 0.93, 1.05, 0.99, 1.10, 0.96, 1.01, 0.89, 1.06, 0.98,
    0.96, 1.08, 0.99, 1.03, 0.92, 1.13, 0.95, 1.01, 0.98, 1.05,
    1.07, 0.97, 0.90, 1.02, 1.00, 1.04, 0.93, 1.11, 0.95, 1.04,
    0.99, 1.05, 0.87, 1.08, 0.96, 1.02, 1.07, 0.94, 1.01, 0.98,
    1.04, 0.98, 1.09, 0.92, 1.01, 0.95, 1.14, 0.99, 0.90, 1.03,
    0.94, 1.02, 1.00, 0.97, 1.11, 0.91, 1.04, 1.05, 0.99, 0.88,
    1.02, 0.93, 1.05, 0.99, 1.10, 0.96, 1.01, 0.89, 1.06, 0.98,
    0.96, 1.08, 0.99, 1.03, 0.92, 1.13, 0.95, 1.01, 0.98, 1.05,
    1.07, 0.97, 0.90, 1.02, 1.00, 1.04, 0.93, 1.11, 0.95, 1.04,
    0.99, 1.05, 0.87, 1.08, 0.96, 1.02, 1.07, 0.94, 1.01, 0.98,
    1.04, 0.98, 1.09, 0.92, 1.01, 0.95, 1.14, 0.99, 0.90, 1.03,
    0.94, 1.02, 1.00, 0.97, 1.11, 0.91, 1.04, 1.05, 0.99, 0.88,
    1.02, 0.93, 1.05, 0.99, 1.10, 0.96, 1.01, 0.89, 1.06, 0.98,
    0.96, 1.08, 0.99, 1.03, 0.92, 1.13, 0.95, 1.01, 0.98, 1.05,
    1.07, 0.97, 0.90, 1.02, 1.00, 1.04, 0.93, 1.11, 0.95, 1.04,
    0.99, 1.05, 0.87, 1.08, 0.96, 1.02, 1.07, 0.94, 1.01, 0.98,
    1.04, 0.98, 1.09, 0.92, 1.01, 0.95, 1.14, 0.99, 0.90, 1.03,
    0.94, 1.02, 1.00, 0.97, 1.11, 0.91, 1.04, 1.05, 0.99, 0.88,
    1.02, 0.93, 1.05, 0.99, 1.10, 0.96, 1.01, 0.89, 1.06, 0.98,
    0.96, 1.08, 0.99, 1.03, 0.92, 1.13, 0.95, 1.01, 0.98, 1.05,
    1.07, 0.97, 0.90, 1.02, 1.00, 1.04, 0.93, 1.11, 0.95, 1.04,
    0.99, 1.05, 0.87, 1.08, 0.96, 1.02, 1.07, 0.94, 1.01, 0.98,
    1.04, 0.98, 1.09, 0.92, 1.01, 0.95, 1.14, 0.99, 0.90, 1.03,
    0.94, 1.02, 1.00, 0.97, 1.11, 0.91, 1.04, 1.05, 0.99, 0.88,
    1.02, 0.93, 1.05, 0.99, 1.10, 0.96, 1.01, 0.89, 1.06, 0.98,
    0.96, 1.08, 0.99, 1.03, 0.92, 1.13, 0.95, 1.01, 0.98, 1.05,
    1.07, 0.97, 0.90, 1.02, 1.00, 1.04, 0.93, 1.11, 0.95, 1.04,
    0.99, 1.05, 0.87, 1.08, 0.96, 1.02, 1.07, 0.94, 1.01, 0.98,
    1.04, 0.98, 1.09, 0.92, 1.01, 0.95, 1.14, 0.99, 0.90, 1.03,
    0.94, 1.02, 1.00, 0.97, 1.11, 0.91, 1.04, 1.05, 0.99, 0.88,
    1.02, 0.93, 1.05, 0.99, 1.10, 0.96, 1.01, 0.89, 1.06, 0.98,
    0.96, 1.08, 0.99, 1.03, 0.92, 1.13, 0.95, 1.01, 0.98, 1.05,
    1.07, 0.97, 0.90, 1.02, 1.00, 1.04, 0.93, 1.11, 0.95, 1.04,
    0.99, 1.05, 0.87, 1.08, 0.96, 1.02, 1.07, 0.94, 1.01, 0.98,
    1.04, 0.98, 1.09, 0.92, 1.01, 0.95, 1.14, 0.99, 0.90, 1.03,
    0.94, 1.02, 1.00, 0.97, 1.11, 0.91, 1.04, 1.05, 0.99, 0.88,
]

# ---------------- styling ----------------
PINK = "#FF1F5B"
NAVY = "#0b2b6e"
LBLUE = "#3f8fdc"
AR_FILL = "#dbe8fa"
FONT = "DejaVu Serif"
TXT = "#1a1a1a"
W, H = 1184, 436

fig = go.Figure()

# ---- panel (a) ----
trace_t = [trace_t0 + trace_dt * i for i in range(len(trace_mv))]
fig.add_trace(go.Scatter(x=trace_t, y=trace_mv, mode="lines", line=dict(color="#505050", width=1),
                         name="5.9 keV NaI hit from <sup>55</sup>Fe source", legendgroup="a1",
                         xaxis="x", yaxis="y", legend="legend"))
fig.add_trace(go.Scatter(x=fit_t, y=fit_pulse, mode="lines", line=dict(color=PINK, width=2.2, shape="spline", smoothing=0.6),
                         name="Fit with pulse model", legendgroup="a2", xaxis="x", yaxis="y", legend="legend"))
fig.add_trace(go.Scatter(x=fit_t, y=fit_athermal, mode="lines",
                         line=dict(color=NAVY, width=2, dash="dashdot", shape="spline", smoothing=0.6),
                         name="Fit (athermal component)", legendgroup="a3", xaxis="x", yaxis="y", legend="legend"))
fig.add_trace(go.Scatter(x=fit_t, y=fit_thermal, mode="lines",
                         line=dict(color="#4a9fe8", width=1.8, dash="dash", shape="spline", smoothing=0.6),
                         name="Fit (thermal component)", legendgroup="a4", xaxis="x", yaxis="y", legend="legend"))

# ---- panel (b) ----
ev_e = column_e + lowe_e + below_e + above_e + cloud_e + core_e
ev_ly = column_ly + lowe_ly + below_ly + above_ly + cloud_ly + core_ly
n = min(len(ev_e), len(ev_ly))
ev_e, ev_ly = ev_e[:n], ev_ly[:n]

fig.add_trace(go.Scatter(x=ar_lo_e + na_mid_e[::-1], y=ar_lo_ly + na_mid_ly[::-1], mode="lines", fill="toself",
                         fillcolor=AR_FILL, line=dict(width=0, color=AR_FILL), name="Acceptance region (AR)",
                         legendgroup="b1", xaxis="x2", yaxis="y2", legend="legend2"))
fig.add_trace(go.Scatter(x=hatch_lo_e + hatch_hi_e, y=hatch_lo_ly + hatch_hi_ly, mode="lines", fill="toself",
                         fillcolor="rgba(0,0,0,0)",
                         fillpattern=dict(shape="/", fgcolor="#858585", size=7, solidity=0.14),
                         line=dict(width=1, color="#9a9a9a"), showlegend=False, hoverinfo="skip",
                         xaxis="x2", yaxis="y2"))
fig.add_trace(go.Scatter(x=ev_e, y=ev_ly, mode="markers",
                         marker=dict(color="rgba(0,0,0,0.62)", size=3.8, line=dict(width=0)),
                         name="Sim bck events (100 kg\u2009d)", legendgroup="b2",
                         xaxis="x2", yaxis="y2", legend="legend2"))
fig.add_trace(go.Scatter(x=inside_e, y=inside_ly, mode="markers",
                         marker=dict(color=PINK, size=8, symbol="x", line=dict(width=0)),
                         name="Bck events inside AR", legendgroup="b3", xaxis="x2", yaxis="y2", legend="legend2"))

def band(xs, ys, color, dash, name, show, group):
    fig.add_trace(go.Scatter(x=xs, y=ys, mode="lines",
                             line=dict(color=color, width=1.9, dash=dash, shape="spline", smoothing=0.8),
                             name=name, showlegend=show, legendgroup=group, xaxis="x2", yaxis="y2",
                             legend="legend3"))

band(bg_up_e, bg_up_ly, PINK, "dashdot", "<i>β</i>/<i>γ</i> band", True, "c1")
band(bg_lo_e, bg_lo_ly, PINK, "dashdot", "<i>β</i>/<i>γ</i> band", False, "c1")
band(na_up_e, na_up_ly, NAVY, "solid", "Na band", True, "c2")
band(na_lo_e, na_lo_ly, NAVY, "solid", "Na band", False, "c2")
band(na_mid_e, na_mid_ly, NAVY, "dash", "Na mean", False, "c2")
band(i_up_e, i_up_ly, LBLUE, "solid", "I band", True, "c3")
band(i_lo_e, i_lo_ly, LBLUE, "solid", "I band", False, "c3")

# ---- axes ----
def axis_style(**kw):
    d = dict(showline=True, linecolor="#333333", linewidth=1.4, mirror="ticks", ticks="inside", ticklen=6,
             tickwidth=1, tickcolor="#333333", showgrid=True, gridcolor="#ebebeb", gridwidth=1, zeroline=False,
             tickfont=dict(family=FONT, size=15, color=TXT))
    d.update(kw)
    return d

def minor(dt):
    return dict(ticks="inside", ticklen=3, tickcolor="#333333", dtick=dt, showgrid=False)

leg_common = dict(xanchor="left", yanchor="top", bgcolor="rgba(0,0,0,0)",
                  font=dict(family=FONT, size=15, color=TXT), tracegroupgap=3, traceorder="grouped")
fig.update_layout(
    width=W, height=H, margin=dict(l=0, r=0, t=0, b=0),
    paper_bgcolor="white", plot_bgcolor="white",
    font=dict(family=FONT, size=15, color=TXT),
    xaxis=axis_style(domain=[63 / W, 501 / W], range=[-20, 60], dtick=10, tick0=0, anchor="y", minor=minor(2)),
    yaxis=axis_style(domain=[1 - 376 / H, 1 - 6 / H], range=[-1.0, 13.94], dtick=2, tick0=0, anchor="x",
                     minor=minor(0.5)),
    xaxis2=axis_style(domain=[673.5 / W, 1143 / W], range=[1, 80], dtick=10, tick0=0, anchor="y2", minor=minor(2)),
    yaxis2=axis_style(domain=[1 - 377 / H, 1 - 13 / H], range=[-0.6, 1.5], dtick=0.5, tick0=0, tickformat=".1f",
                      anchor="x2", minor=minor(0.1)),
    legend=dict(x=183 / W, y=1 - 6 / H, **leg_common),
    legend2=dict(x=718 / W, y=1 - 276 / H, **leg_common),
    legend3=dict(x=1016 / W, y=1 - 276 / H, **leg_common),
    showlegend=True,
)

ann = [
    dict(text="(a)", x=20 / W, y=1 - 20 / H, font=dict(size=24)),
    dict(text="(b)", x=611 / W, y=1 - 20 / H, font=dict(size=24)),
    dict(text="<i>τ</i><sub>n</sub>=0.8 ms, <i>τ</i><sub>in</sub>=0.9 ms, <i>τ</i><sub>t</sub>=12 s",
         x=357 / W, y=1 - 279 / H, font=dict(size=11)),
    dict(text="Time (ms)", x=282 / W, y=1 - 417 / H, font=dict(size=18)),
    dict(text="Particle-independent total recoil energy (keV)", x=908 / W, y=1 - 417 / H, font=dict(size=18)),
    dict(text="Voltage (mV)", x=23 / W, y=1 - 191 / H, font=dict(size=18), textangle=-90),
    dict(text="Light yield", x=613 / W, y=1 - 195 / H, font=dict(size=18), textangle=-90),
]
for a in ann:
    a.update(xref="paper", yref="paper", showarrow=False, xanchor="center", yanchor="middle")
    a["font"] = dict(family=FONT, color=TXT, size=a["font"]["size"])
fig.update_layout(annotations=ann)

fig.write_html("out.html", config={"displayModeBar": False})
